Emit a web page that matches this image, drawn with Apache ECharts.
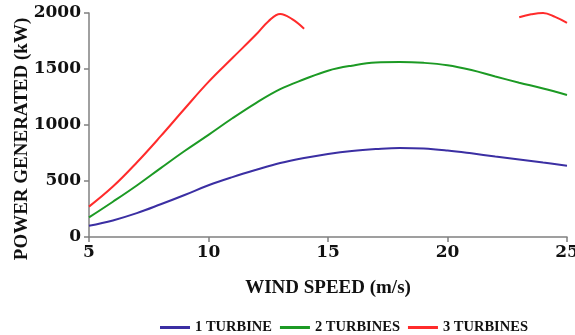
<!DOCTYPE html>
<html>
<head>
<meta charset="utf-8">
<script src="https://cdn.jsdelivr.net/npm/echarts@6/dist/echarts.min.js"></script>
<style>
  html, body { margin: 0; padding: 0; background: #fff; }
  #chart { width: 575px; height: 335px; }
</style>
</head>
<body>
<div id="chart"></div>
<script>
// Wind speed (m/s) at which each curve is sampled
const speeds = [5, 6, 7, 8, 9, 10, 11, 12, 13, 14, 15, 16, 17, 18, 19, 20, 21, 22, 23, 24, 25];

// Power generated (kW)
const oneTurbine = [100, 148, 213, 292, 375, 462, 535, 600, 660, 705, 741, 768, 785, 795, 790, 772, 747, 719, 693, 665, 637];
const twoTurbines = [175, 315, 460, 615, 768, 912, 1060, 1198, 1320, 1408, 1485, 1530, 1558, 1562, 1555, 1534, 1491, 1433, 1378, 1326, 1268];

// Three turbines: only partly on the chart (above 2000 kW in between)
const threeSpeeds = [5, 6, 7, 8, 9, 10, 11, 12, 12.5, 13, 13.5, 14, null, 23, 23.5, 24, 24.5, 25];
const threeTurbines = [271, 450, 665, 900, 1145, 1385, 1598, 1810, 1925, 1992, 1945, 1860, null, 1962, 1988, 2000, 1965, 1912];

const xTicks = [5, 10, 15, 20, 25];
const yTicks = [0, 500, 1000, 1500, 2000];

const pairs = (xs, ys) => xs.map((x, i) => (x === null ? [null, null] : [x, ys[i]]));

const font = 'Liberation Serif';
const tickFont = 'DejaVu Serif';
const chart = echarts.init(document.getElementById('chart'), null, { renderer: 'canvas' });

chart.setOption({
  animation: false,
  backgroundColor: '#ffffff',
  grid: { left: 89, right: 8, top: 13, bottom: 98, containLabel: false, outerBoundsMode: 'none' },
  legend: {
    left: 155,
    top: 315,
    icon: 'rect',
    itemWidth: 30,
    itemHeight: 3,
    itemGap: 8,
    textStyle: { fontFamily: font, fontWeight: 'bold', fontSize: 14.5, color: '#111' },
    data: ['1 TURBINE', '2 TURBINES', '3 TURBINES']
  },
  xAxis: {
    type: 'value',
    min: xTicks[0],
    max: xTicks[xTicks.length - 1],
    interval: 5,
    name: 'WIND SPEED (m/s)',
    nameLocation: 'middle',
    nameGap: 42,
    nameMoveOverlap: false,
    nameTextStyle: { fontFamily: font, fontWeight: 'bold', fontSize: 19, color: '#111' },
    axisLine: { lineStyle: { color: '#808080', width: 1.5 } },
    axisTick: { show: true, length: 5, lineStyle: { color: '#808080', width: 1.5 } },
    axisLabel: { fontFamily: tickFont, fontWeight: 'bold', fontSize: 17, color: '#111', margin: 7, formatter: v => String(v) },
    splitLine: { show: false }
  },
  yAxis: {
    type: 'value',
    min: yTicks[0],
    max: yTicks[yTicks.length - 1],
    interval: 500,
    name: 'POWER GENERATED (kW)',
    nameLocation: 'middle',
    nameGap: 57,
    nameMoveOverlap: false,
    nameTextStyle: { fontFamily: font, fontWeight: 'bold', fontSize: 19, color: '#111', padding: [0, 28, 0, 0] },
    axisLine: { show: true, lineStyle: { color: '#808080', width: 1.5 } },
    axisTick: { show: true, length: 5, lineStyle: { color: '#808080', width: 1.5 } },
    axisLabel: { fontFamily: tickFont, fontWeight: 'bold', fontSize: 17, color: '#111', margin: 8, formatter: v => String(v) },
    splitLine: { show: false }
  },
  series: [
    {
      name: '1 TURBINE', type: 'line', smooth: 0.4, symbol: 'none',
      color: '#3b2fa3', lineStyle: { width: 2 },
      data: pairs(speeds, oneTurbine)
    },
    {
      name: '2 TURBINES', type: 'line', smooth: 0.4, symbol: 'none',
      color: '#1c9a24', lineStyle: { width: 2 },
      data: pairs(speeds, twoTurbines)
    },
    {
      name: '3 TURBINES', type: 'line', smooth: 0.4, symbol: 'none',
      color: '#ff2b2b', lineStyle: { width: 2 }, connectNulls: false,
      data: pairs(threeSpeeds, threeTurbines)
    }
  ]
});
</script>
</body>
</html>
